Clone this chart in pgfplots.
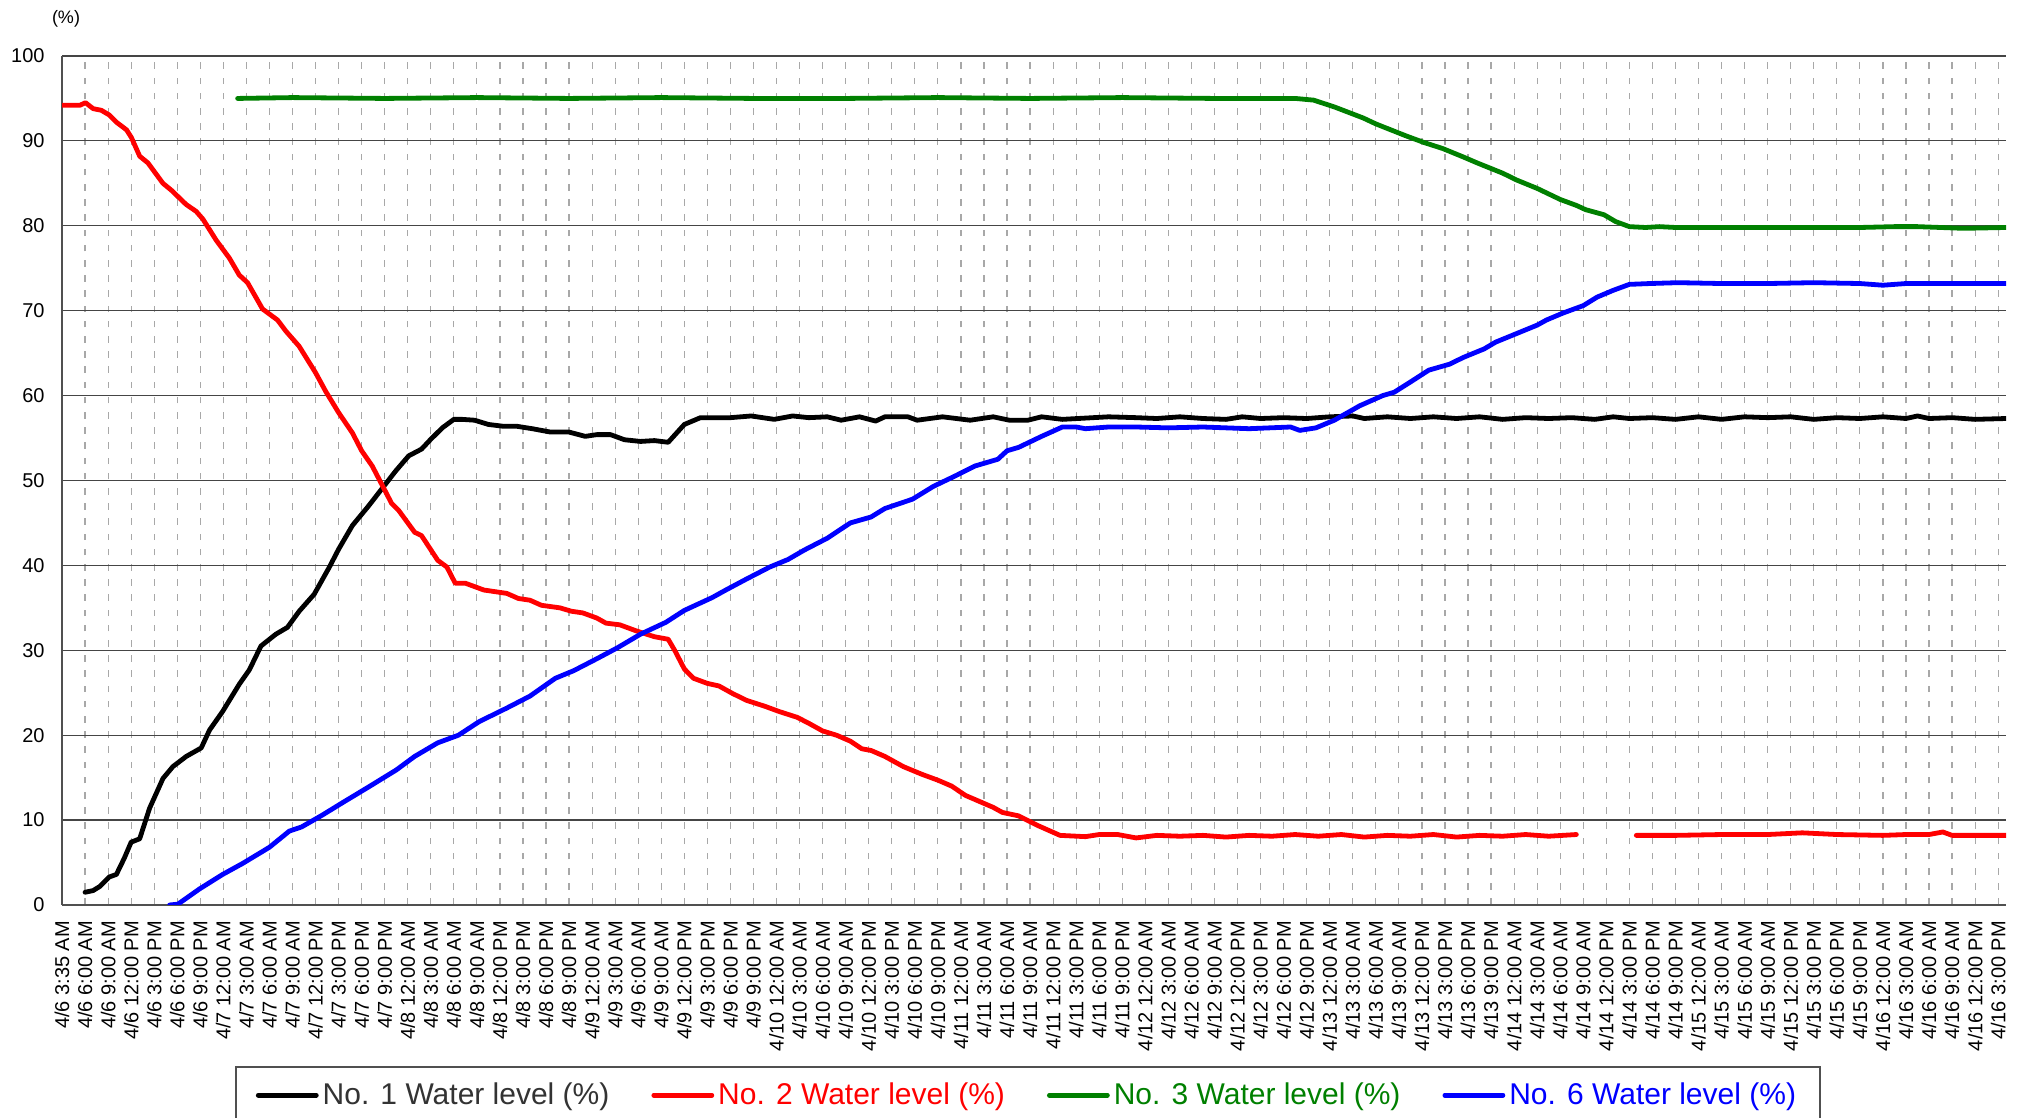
\documentclass[border=0pt]{standalone}
\usepackage{fontspec}
\setmainfont{Liberation Sans}
\usepackage{pgfplots}
\pgfplotsset{compat=1.18}
\definecolor{gridh}{HTML}{454545}
\definecolor{gridv}{HTML}{A8A8A8}
\definecolor{axisc}{HTML}{505050}
\definecolor{cblack}{HTML}{000000}
\definecolor{cred}{HTML}{FF0000}
\definecolor{cgreen}{HTML}{008000}
\definecolor{cblue}{HTML}{0000FF}
\definecolor{legtext}{HTML}{333333}
\begin{document}
\begin{tikzpicture}
\path[use as bounding box] (0,0) rectangle (1012pt,559pt);
\begin{axis}[
  at={(31pt,106.5pt)}, anchor=south west,
  scale only axis, width=972pt, height=424.5pt,
  xmin=0, xmax=84.34, ymin=0, ymax=100,
  axis x line*=bottom, axis y line*=left,
  axis line style={draw=axisc, line width=0.9pt},
  major tick length=0pt,
  xtick={0,...,84},
  xticklabels={4/6 3:35 AM,4/6 6:00 AM,4/6 9:00 AM,4/6 12:00 PM,4/6 3:00 PM,4/6 6:00 PM,4/6 9:00 PM,
    4/7 12:00 AM,4/7 3:00 AM,4/7 6:00 AM,4/7 9:00 AM,4/7 12:00 PM,4/7 3:00 PM,4/7 6:00 PM,4/7 9:00 PM,
    4/8 12:00 AM,4/8 3:00 AM,4/8 6:00 AM,4/8 9:00 AM,4/8 12:00 PM,4/8 3:00 PM,4/8 6:00 PM,4/8 9:00 PM,
    4/9 12:00 AM,4/9 3:00 AM,4/9 6:00 AM,4/9 9:00 AM,4/9 12:00 PM,4/9 3:00 PM,4/9 6:00 PM,4/9 9:00 PM,
    4/10 12:00 AM,4/10 3:00 AM,4/10 6:00 AM,4/10 9:00 AM,4/10 12:00 PM,4/10 3:00 PM,4/10 6:00 PM,4/10 9:00 PM,
    4/11 12:00 AM,4/11 3:00 AM,4/11 6:00 AM,4/11 9:00 AM,4/11 12:00 PM,4/11 3:00 PM,4/11 6:00 PM,4/11 9:00 PM,
    4/12 12:00 AM,4/12 3:00 AM,4/12 6:00 AM,4/12 9:00 AM,4/12 12:00 PM,4/12 3:00 PM,4/12 6:00 PM,4/12 9:00 PM,
    4/13 12:00 AM,4/13 3:00 AM,4/13 6:00 AM,4/13 9:00 AM,4/13 12:00 PM,4/13 3:00 PM,4/13 6:00 PM,4/13 9:00 PM,
    4/14 12:00 AM,4/14 3:00 AM,4/14 6:00 AM,4/14 9:00 AM,4/14 12:00 PM,4/14 3:00 PM,4/14 6:00 PM,4/14 9:00 PM,
    4/15 12:00 AM,4/15 3:00 AM,4/15 6:00 AM,4/15 9:00 AM,4/15 12:00 PM,4/15 3:00 PM,4/15 6:00 PM,4/15 9:00 PM,
    4/16 12:00 AM,4/16 3:00 AM,4/16 6:00 AM,4/16 9:00 AM,4/16 12:00 PM,4/16 3:00 PM},
  ytick={0,10,...,100},
  /pgf/number format/assume math mode=true,
  tick label style={font=\fontsize{10}{12}\selectfont, text=black},
  xticklabel style={rotate=90, anchor=east, inner sep=0pt},
  yticklabel style={anchor=east, inner sep=0pt},
  xticklabel shift=7.8pt,
  yticklabel shift=8.5pt,
  xmajorgrids, ymajorgrids,
  x grid style={draw=gridv, line width=0.6pt, dash pattern=on 3.3pt off 4.3pt},
  y grid style={draw=gridh, line width=0.6pt},
  unbounded coords=jump,
  legend columns=4,
  legend cell align=left,
  legend image code/.code={\draw[#1, line width=2.4pt] (0pt,0pt) -- (29pt,0pt);},
  legend style={at={(0.4969,-0.1896)}, anchor=north, draw=axisc, line width=0.8pt,
    inner xsep=10pt, inner ysep=6pt, font=\fontsize{15}{18}\selectfont,
    /tikz/every even column/.append style={column sep=19pt}},
  every axis plot/.append style={line width=2.4pt, line join=round, line cap=round},
]
\addplot[cblack] coordinates {
(1.0,1.5)(1.35,1.7)(1.65,2.2)(2.05,3.3)(2.36,3.6)(2.7,5.5)(3.0,7.4)(3.37,7.8)(3.8,11.4)(4.38,14.9)
(4.81,16.3)(5.39,17.5)(6.04,18.5)(6.4,20.6)(6.97,22.8)(7.69,26.0)(8.13,27.7)(8.63,30.5)(9.28,31.9)(9.78,32.7)
(10.29,34.6)(10.94,36.6)(11.6,39.8)(12.0,41.9)(12.6,44.7)(13.3,47.0)(13.9,49.1)(14.47,51.1)(15.04,52.9)(15.6,53.7)
(15.98,54.8)(16.5,56.2)(17.0,57.2)(17.35,57.2)(17.9,57.1)(18.5,56.6)(19.1,56.4)(19.7,56.4)(20.4,56.1)(21.2,55.7)
(22.0,55.7)(22.7,55.2)(23.2,55.4)(23.8,55.4)(24.4,54.8)(25.1,54.6)(25.7,54.7)(26.3,54.5)(26.6,55.4)(27.0,56.6)
(27.7,57.4)(29.0,57.4)(29.9,57.6)(30.9,57.2)(31.7,57.6)(32.4,57.4)(33.2,57.5)(33.8,57.1)(34.6,57.5)(35.3,57.0)
(35.7,57.5)(36.7,57.5)(37.1,57.1)(38.2,57.5)(39.4,57.1)(40.4,57.5)(41.1,57.1)(41.9,57.1)(42.5,57.5)(43.4,57.2)
(45.4,57.5)(46.6,57.4)(47.5,57.3)(48.5,57.5)(49.5,57.3)(50.5,57.2)(51.2,57.5)(52,57.3)(53,57.4)(54,57.3)
(55,57.5)(56,57.6)(56.5,57.3)(57.5,57.5)(58.5,57.3)(59.5,57.5)(60.5,57.3)(61.5,57.5)(62.5,57.2)(63.5,57.4)
(64.5,57.3)(65.5,57.4)(66.5,57.2)(67.3,57.5)(68,57.3)(69,57.4)(70,57.2)(71,57.5)(72,57.2)(73,57.5)
(74,57.4)(75,57.5)(76,57.2)(77,57.4)(78,57.3)(79,57.5)(80,57.3)(80.5,57.6)(81,57.3)(82,57.4)(83,57.2)(84.34,57.3)
};
\addlegendentry{\textcolor{legtext}{No. 1 Water level (\%)}}
\addplot[cred] coordinates {
(0,94.2)(0.78,94.2)(1.02,94.5)(1.35,93.8)(1.71,93.6)(2.05,93.05)(2.36,92.2)(2.8,91.3)(3.01,90.4)(3.37,88.2)
(3.73,87.4)(4.38,85.0)(4.74,84.2)(5.39,82.5)(5.82,81.7)(6.11,80.8)(6.69,78.3)(7.26,76.2)(7.69,74.2)(8.05,73.3)
(8.7,70.2)(9.35,68.9)(9.71,67.6)(10.29,65.8)(11.0,62.7)(11.44,60.5)(12.0,58.0)(12.6,55.6)(13.0,53.5)(13.46,51.7)
(13.9,49.4)(14.3,47.3)(14.6,46.5)(15.3,43.9)(15.6,43.5)(16.3,40.6)(16.7,39.8)(17.06,37.9)(17.5,37.9)(18.3,37.1)
(19.3,36.7)(19.8,36.1)(20.3,35.9)(20.8,35.3)(21.6,35.0)(22.1,34.6)(22.6,34.4)(23.2,33.8)(23.6,33.2)(24.2,33.0)
(24.9,32.3)(25.7,31.6)(26.3,31.3)(26.6,29.9)(27.0,27.8)(27.4,26.7)(28.0,26.1)(28.5,25.8)(29.1,24.9)(29.7,24.1)
(30.5,23.4)(31.1,22.8)(31.9,22.1)(32.4,21.4)(33.0,20.5)(33.6,20.0)(34.2,19.3)(34.7,18.4)(35.1,18.2)(35.7,17.5)
(36.5,16.3)(37.3,15.4)(38.0,14.7)(38.6,14.0)(39.2,12.9)(39.8,12.2)(40.4,11.5)(40.8,10.9)(41.5,10.5)(42.3,9.4)
(43.3,8.2)(44.4,8.05)(45.0,8.3)(45.8,8.3)(46.6,7.9)(47.5,8.2)(48.5,8.1)(49.5,8.2)(50.5,8.0)(51.5,8.2)
(52.5,8.1)(53.5,8.3)(54.5,8.1)(55.5,8.3)(56.5,8.0)(57.5,8.2)(58.5,8.1)(59.5,8.3)(60.5,8.0)(61.5,8.2)
(62.5,8.1)(63.5,8.3)(64.5,8.1)(65.7,8.3)(67,nan)(68.3,8.2)(70,8.2)(72,8.3)(74,8.3)(75.5,8.5)
(77,8.3)(79,8.2)(80,8.3)(81,8.3)(81.6,8.6)(82,8.2)(83,8.2)(84.34,8.2)
};
\addlegendentry{\textcolor{cred}{No. 2 Water level (\%)}}
\addplot[cgreen] coordinates {
(7.62,95.0)(10,95.1)(14,95.0)(18,95.1)(22,95.0)(26,95.1)(30,95.0)(34,95.0)(38,95.1)(42,95.0)
(46,95.1)(50,95.0)(53.5,95.0)(54.3,94.8)(55.2,94.0)(56.45,92.7)(57.0,92.0)(58.3,90.6)(59.1,89.8)(59.9,89.1)
(60.8,88.1)(61.4,87.4)(62.5,86.2)(63.1,85.4)(64.0,84.4)(65.0,83.1)(65.7,82.4)(66.1,81.9)(66.9,81.3)(67.4,80.5)
(68.0,79.9)(68.7,79.8)(69.3,79.9)(70,79.8)(75,79.8)(78,79.8)(79.5,79.9)(80.5,79.9)(81.5,79.8)(82.5,79.7)(84.34,79.8)
};
\addlegendentry{\textcolor{cgreen}{No. 3 Water level (\%)}}
\addplot[cblue] coordinates {
(4.67,0)(5.03,0.1)(5.97,1.9)(6.97,3.6)(7.84,4.9)(9.0,6.8)(9.86,8.7)(10.4,9.2)(11.3,10.6)(12.2,12.1)
(13.3,13.9)(14.5,15.9)(15.3,17.5)(16.3,19.1)(17.2,20.0)(18.1,21.6)(19.3,23.2)(20.3,24.6)(21.4,26.7)(22.2,27.6)
(23.2,29.0)(24.1,30.3)(25.1,31.9)(26.2,33.3)(27.0,34.7)(28.2,36.2)(28.8,37.1)(29.7,38.4)(30.7,39.8)(31.5,40.7)
(32.2,41.8)(33.2,43.2)(34.2,45.0)(35.1,45.7)(35.7,46.7)(36.9,47.8)(37.8,49.3)(38.8,50.6)(39.6,51.7)(40.6,52.5)
(41.0,53.5)(41.5,53.9)(42.5,55.2)(43.4,56.3)(44.0,56.3)(44.4,56.1)(45.4,56.3)(46.6,56.3)(48,56.2)(49.5,56.3)
(50.5,56.2)(51.5,56.1)(52.4,56.2)(53.3,56.3)(53.7,55.9)(54.4,56.2)(55.2,57.1)(56.3,58.8)(57.3,60.0)(57.8,60.4)
(58.5,61.6)(59.3,63.0)(60.2,63.7)(60.8,64.5)(61.7,65.5)(62.2,66.3)(63.1,67.3)(64.0,68.3)(64.4,68.9)(65.1,69.7)
(66.0,70.6)(66.6,71.6)(67.3,72.4)(68.0,73.1)(68.9,73.2)(70.1,73.3)(72,73.2)(74,73.2)(76,73.3)(78,73.2)
(79,73.0)(80,73.2)(82,73.2)(84.34,73.2)
};
\addlegendentry{\textcolor{cblue}{No. 6 Water level (\%)}}
\end{axis}
\node[font=\fontsize{9}{10}\selectfont, inner sep=0pt] at (33pt,549.5pt) {(\%)};
\end{tikzpicture}
\end{document}
